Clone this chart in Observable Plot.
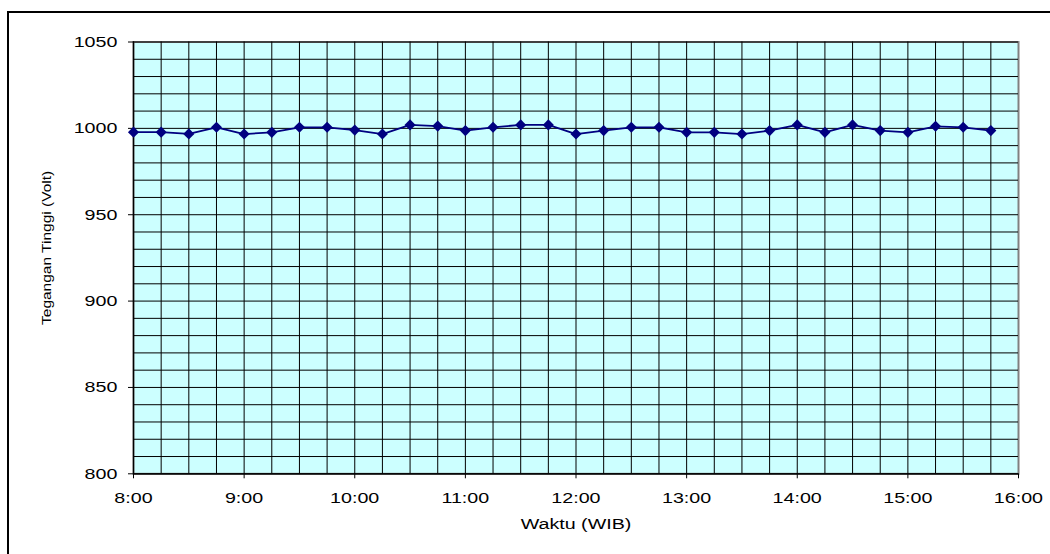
<!DOCTYPE html>
<html>
<head>
<meta charset="utf-8">
<script src="https://cdn.jsdelivr.net/npm/d3@7"></script>
<script src="https://cdn.jsdelivr.net/npm/@observablehq/plot@0.6"></script>
<style>
  html, body { margin: 0; padding: 0; background: #fff; }
  #wrap { position: relative; width: 1050px; height: 554px; overflow: hidden; }
  #border { position: absolute; left: 7px; top: 11px; width: 1100px; height: 600px;
            border-left: 2px solid #000; border-top: 2px solid #000; }
  #chart { position: absolute; left: 0; top: 0; }
</style>
</head>
<body>
<div id="wrap"><div id="border"></div><div id="chart"></div></div>
<script>
// Data
const times = ["8:00","8:15","8:30","8:45","9:00","9:15","9:30","9:45",
               "10:00","10:15","10:30","10:45","11:00","11:15","11:30","11:45",
               "12:00","12:15","12:30","12:45","13:00","13:15","13:30","13:45",
               "14:00","14:15","14:30","14:45","15:00","15:15","15:30","15:45"];
const voltage = [997.8, 997.8, 996.8, 1000.6, 996.7, 997.7, 1000.6, 1000.6,
                 999.0, 996.7, 1002.0, 1001.3, 998.7, 1000.6, 1002.0, 1002.0,
                 996.7, 998.7, 1000.6, 1000.6, 997.7, 997.7, 996.7, 998.7,
                 1002.0, 997.7, 1002.0, 998.7, 997.7, 1001.2, 1000.6, 998.7];
const xTickLabels = ["8:00","9:00","10:00","11:00","12:00","13:00","14:00","15:00","16:00"];
const yTicks = [800, 850, 900, 950, 1000, 1050];
const xTitle = "Waktu (WIB)";
const yTitle = "Tegangan Tinggi (Volt)";

const toHours = s => { const [h, m] = s.split(":").map(Number); return h + m / 60; };
const data = times.map((t, i) => ({t: toHours(t), v: voltage[i]}));
const xTicks = xTickLabels.map(toHours);
const fmt = h => `${Math.floor(h)}:${String(Math.round((h % 1) * 60)).padStart(2, "0")}`;

const FONT = "'Liberation Sans', Arial, sans-serif";
const GRID = {stroke: "#000", strokeOpacity: 1, strokeWidth: 1};

const svg = Plot.plot({
  width: 1050,
  height: 554,
  marginLeft: 133,
  marginRight: 32,
  marginTop: 41.5,
  marginBottom: 80.7,
  style: {fontFamily: FONT, fontSize: "15.5px", background: "transparent", color: "#000", overflow: "visible"},
  x: {domain: [8, 16], label: null},
  y: {domain: [800, 1050], label: null},
  marks: [
    Plot.frame({fill: "#ccffff"}),
    Plot.frame({stroke: "#808080", strokeWidth: 2}),
    Plot.gridX(d3.range(8, 15.8, 0.25), GRID),
    Plot.gridY(d3.range(800, 1050.1, 10), GRID),
    Plot.ruleX([8], {stroke: "#000", strokeWidth: 1.3}),
    Plot.ruleY([800], {stroke: "#000", strokeWidth: 1.3}),
    Plot.axisX({ticks: xTicks, tickSize: 5, tickPadding: 13, tickFormat: fmt, fontSize: 15.5, label: null}),
    Plot.axisY({ticks: yTicks, tickSize: 5, tickPadding: 11, tickFormat: d => String(d), fontSize: 15.5, label: null}),
    Plot.line(data, {x: "t", y: "v", stroke: "#000080", strokeWidth: 1.8}),
    Plot.dot(data, {x: "t", y: "v", symbol: "diamond2", r: 5, fill: "#000080", stroke: "none"}),
    Plot.text([xTitle], {frameAnchor: "bottom", textAnchor: "middle", dy: 55, fontSize: 15.5, fill: "#000"}),
    Plot.text([yTitle], {frameAnchor: "left", textAnchor: "middle", dx: -87, dy: -10, rotate: -90, fontSize: 15.5, fill: "#000"})
  ]
});

document.getElementById("chart").appendChild(svg);

// Stretch glyphs horizontally like the reference (scale about each label's anchor)
d3.select(svg).selectAll("text").each(function () {
  const tr = this.getAttribute("transform") || "";
  const rotated = /rotate/.test(tr);
  const b = this.getBBox();
  const anchor = getComputedStyle(this).textAnchor;
  const ax = anchor === "end" ? b.x + b.width : anchor === "middle" ? b.x + b.width / 2 : b.x;
  const ay = b.y + b.height / 2;
  const extra = rotated
    ? ` translate(${ax},${ay}) scale(1,0.85) translate(${-ax},${-ay})`
    : ` translate(${ax},0) scale(1.27,1) translate(${-ax},0)`;
  this.setAttribute("transform", tr + extra);
});
</script>
</body>
</html>
